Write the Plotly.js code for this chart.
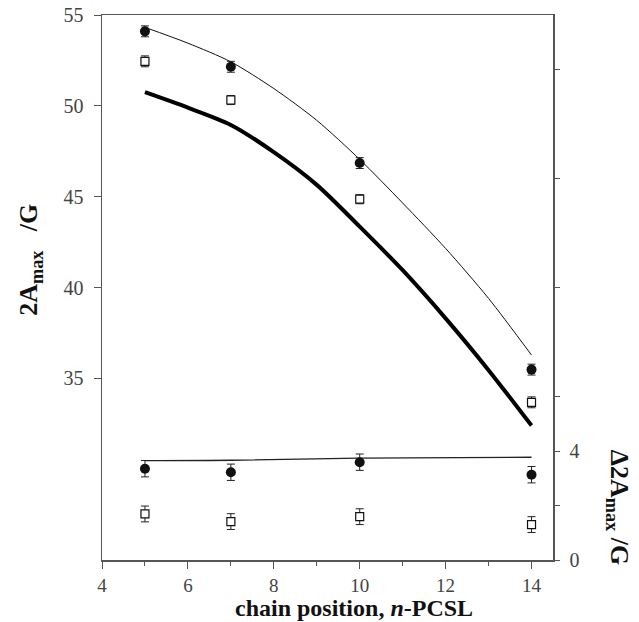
<!DOCTYPE html>
<html>
<head>
<meta charset="utf-8">
<script src="https://cdn.plot.ly/plotly-3.0.1.min.js"></script>
<style>html,body{margin:0;padding:0;background:#fff;}</style>
</head>
<body>
<div id="chart" style="width:639px;height:622px;"></div>
<script>
// chain positions of the spin labels
const positions = [5, 7, 10, 14];

// 2A_max (left axis, G)
const upperFilled = [54.1, 52.15, 46.85, 35.48];
const upperFilledErr = [0.3, 0.3, 0.3, 0.3];
const upperOpen = [52.45, 50.32, 44.86, 33.68];
const upperOpenErr = [0.3, 0.25, 0.25, 0.3];

// Delta 2A_max (right axis, G)
const lowerFilled = [3.35, 3.22, 3.59, 3.13];
const lowerFilledErr = [0.3, 0.3, 0.3, 0.3];
const lowerOpen = [1.69, 1.41, 1.59, 1.30];
const lowerOpenErr = [0.29, 0.29, 0.29, 0.29];

// smooth curves
const curveX = [5, 6, 7, 8, 9, 10, 11, 12, 13, 14];
const thinCurve = [54.32, 53.45, 52.42, 50.95, 49.2, 47.05, 44.65, 42.15, 39.4, 36.28];
const thickCurve = [50.75, 49.9, 48.95, 47.45, 45.65, 43.35, 40.95, 38.3, 35.45, 32.4];
const flatX = [5, 7, 10, 14];
const flatLine = [3.65, 3.66, 3.74, 3.77];

// tick labels
const xTicks = [4, 6, 8, 10, 12, 14];
const xMinor = [5, 7, 9, 11, 13];
const yTicks = [35, 40, 45, 50, 55];
const y2Ticks = [0, 4];
const y2Minor = [2, 6, 10, 14, 18];

const FONT = 'Liberation Serif, Times New Roman, serif';

const traces = [
  {x: curveX, y: thinCurve, mode: 'lines', line: {color: '#111', width: 1, shape: 'spline', smoothing: 0.8}, hoverinfo: 'skip'},
  {x: curveX, y: thickCurve, mode: 'lines', line: {color: '#000', width: 4, shape: 'spline', smoothing: 0.8}, hoverinfo: 'skip'},
  {x: flatX, y: flatLine, yaxis: 'y2', mode: 'lines', line: {color: '#222', width: 1.3, shape: 'spline'}, hoverinfo: 'skip'},
  {x: positions, y: upperFilled, mode: 'markers',
   marker: {symbol: 'circle', size: 10, color: '#111'},
   error_y: {type: 'data', array: upperFilledErr, color: '#222', thickness: 1, width: 4}},
  {x: positions, y: upperOpen, mode: 'markers',
   marker: {symbol: 'square', size: 8, color: '#fff', line: {color: '#111', width: 1.2}},
   error_y: {type: 'data', array: upperOpenErr, color: '#222', thickness: 1, width: 4}},
  {x: positions, y: lowerFilled, yaxis: 'y2', mode: 'markers',
   marker: {symbol: 'circle', size: 10, color: '#111'},
   error_y: {type: 'data', array: lowerFilledErr, color: '#222', thickness: 1, width: 4}},
  {x: positions, y: lowerOpen, yaxis: 'y2', mode: 'markers',
   marker: {symbol: 'square', size: 8, color: '#fff', line: {color: '#111', width: 1.2}},
   error_y: {type: 'data', array: lowerOpenErr, color: '#222', thickness: 1, width: 4}}
];

const axisLine = '#555';
const tickFont = {family: FONT, size: 20, color: '#444'};
const layout = {
  width: 639, height: 622,
  margin: {l: 102, r: 86, t: 15, b: 62},
  paper_bgcolor: '#fff', plot_bgcolor: '#fff',
  showlegend: false,
  font: {family: FONT, color: '#444', size: 20},
  xaxis: {
    range: [4, 14.5], tickvals: xTicks, ticks: 'outside', ticklen: 7, tickwidth: 1, tickcolor: axisLine,
    showline: true, linecolor: axisLine, linewidth: 1.5, mirror: true, showgrid: false, zeroline: false,
    tickfont: {family: FONT, size: 19, color: '#444'}, ticklabelstandoff: 1,
    minor: {tickvals: xMinor, ticks: 'outside', ticklen: 4, tickcolor: axisLine, showgrid: false}
  },
  yaxis: {
    range: [25, 55], tickvals: yTicks, ticks: 'outside', ticklen: 7, tickwidth: 1, tickcolor: axisLine,
    showline: true, linecolor: axisLine, linewidth: 1.5, showgrid: false, zeroline: false,
    tickfont: tickFont, ticklabelstandoff: 6
  },
  yaxis2: {
    overlaying: 'y', side: 'right', range: [0, 20],
    tickvals: y2Ticks, ticks: 'outside', ticklen: 5, tickwidth: 1, tickcolor: axisLine,
    showline: true, linecolor: axisLine, linewidth: 1.5, showgrid: false, zeroline: false,
    tickfont: tickFont, ticklabelstandoff: 6,
    minor: {tickvals: y2Minor, ticks: 'outside', ticklen: 5, tickcolor: axisLine, showgrid: false}
  },
  annotations: [
    {text: '<b>2A<sub>max</sub>&nbsp;&nbsp;&nbsp;/G</b>', xref: 'paper', yref: 'paper',
     x: -0.1595, y: 0.551, textangle: -90, showarrow: false, xanchor: 'center', yanchor: 'middle',
     font: {family: FONT, size: 26, color: '#111'}},
    {text: '<b>Δ2A<sub>max</sub>&nbsp;/G</b>', xref: 'paper', yref: 'paper',
     x: 1.1434, y: 0.0964, textangle: 90, showarrow: false, xanchor: 'center', yanchor: 'middle',
     font: {family: FONT, size: 26, color: '#111'}},
    {text: '<b>chain position, <i>n</i>-PCSL</b>', xref: 'paper', yref: 'paper',
     x: 0.5595, y: -0.0885, showarrow: false, xanchor: 'center', yanchor: 'middle',
     font: {family: FONT, size: 24, color: '#111'}}
  ]
};

Plotly.newPlot('chart', traces, layout, {displayModeBar: false, staticPlot: true});
</script>
</body>
</html>
